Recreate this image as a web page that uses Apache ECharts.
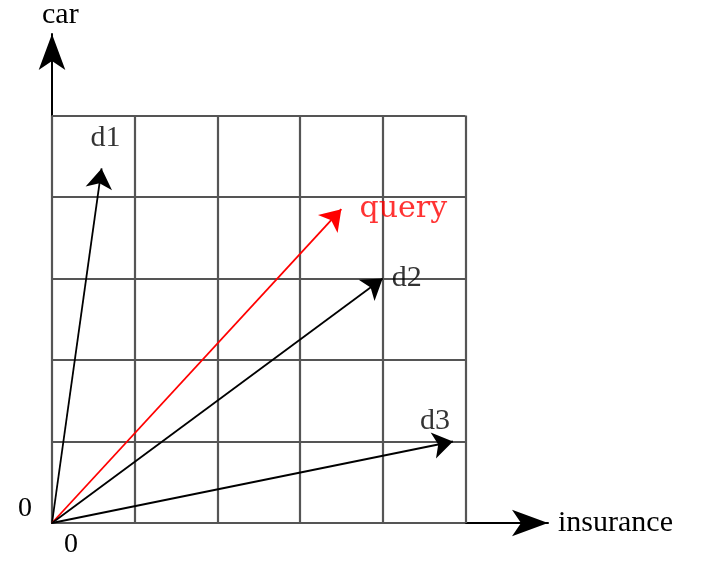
<!DOCTYPE html>
<html><head><meta charset="utf-8">
<script src="https://cdn.jsdelivr.net/npm/echarts@6/dist/echarts.min.js"></script>
<style>html,body{margin:0;background:#fff}#c{width:722px;height:574px}</style>
</head><body><div id="c"></div>
<script>
var vectorNames = ['d1', 'query', 'd2', 'd3'];
var vectorX = [0.6, 3.5, 4.0, 4.85];
var vectorY = [4.35, 3.85, 3.0, 1.0];
var vectorColors = ['#000', '#ff0000', '#000', '#000'];
var gridTicks = [0, 1, 2, 3, 4, 5];

var chart = echarts.init(document.getElementById('c'));
var gridData = [];
gridTicks.forEach(function (t) {
    gridData.push({coords: [[t, 0], [t, 5]]});
    gridData.push({coords: [[0, t], [5, t]]});
});
var vecData = vectorNames.map(function (n, i) {
    return {coords: [[0, 0], [vectorX[i], vectorY[i]]], lineStyle: {color: vectorColors[i]}};
});
var labelPos = {d1: [4, -30], query: [62, 0], d2: [24, 0], d3: [-18, -20]};
var labelData = vectorNames.map(function (n, i) {
    return {value: [vectorX[i], vectorY[i]], name: n,
        label: {color: vectorColors[i], offset: labelPos[n],
            fontFamily: n == 'query' ? 'DejaVu Serif' : 'Liberation Serif'}};
});
var option = {
    animation: false,
    grid: {left: 52, top: 18, width: 496, height: 505},
    xAxis: {type: 'value', min: 0, max: 6, interval: 1,
        axisLine: {lineStyle: {color: '#000', width: 2}, symbol: ['none', 'arrow'], symbolSize: [20, 36], symbolOffset: [0, 0]},
        axisTick: {show: false}, splitLine: {show: false},
        axisLabel: {formatter: function (v) { return v === 0 ? '0' : ''; }, color: '#000', fontSize: 28, fontFamily: 'Liberation Serif', margin: 8, align: 'left', padding: [0, 0, 0, 12]},
        name: 'insurance', nameLocation: 'end', nameGap: 10,
        nameTextStyle: {color: '#000', fontSize: 30, fontFamily: 'Liberation Serif', verticalAlign: 'middle'}},
    yAxis: {type: 'value', min: 0, max: 6, interval: 1,
        axisLine: {lineStyle: {color: '#000', width: 2}, symbol: ['none', 'arrow'], symbolSize: [20, 36]},
        axisTick: {show: false}, splitLine: {show: false},
        axisLabel: {formatter: function (v) { return v === 0 ? '0' : ''; }, color: '#000', fontSize: 28, fontFamily: 'Liberation Serif', margin: 20, verticalAlign: 'bottom'},
        name: 'car', nameLocation: 'end', nameGap: 4,
        nameTextStyle: {color: '#000', fontSize: 30, fontFamily: 'Liberation Serif', align: 'left', padding: [0, 0, 0, -10]}},
    series: [
        {type: 'lines', coordinateSystem: 'cartesian2d', data: gridData, silent: true,
            lineStyle: {color: '#555', width: 2.2, opacity: 1}},
        {type: 'lines', coordinateSystem: 'cartesian2d', data: vecData,
            symbol: ['none', 'arrow'], symbolSize: 20,
            lineStyle: {width: 1.8, opacity: 1}},
        {type: 'scatter', data: labelData, symbolSize: 0,
            label: {show: true, formatter: '{b}', fontSize: 30}}
    ]
};
chart.setOption(option);
</script></body></html>
